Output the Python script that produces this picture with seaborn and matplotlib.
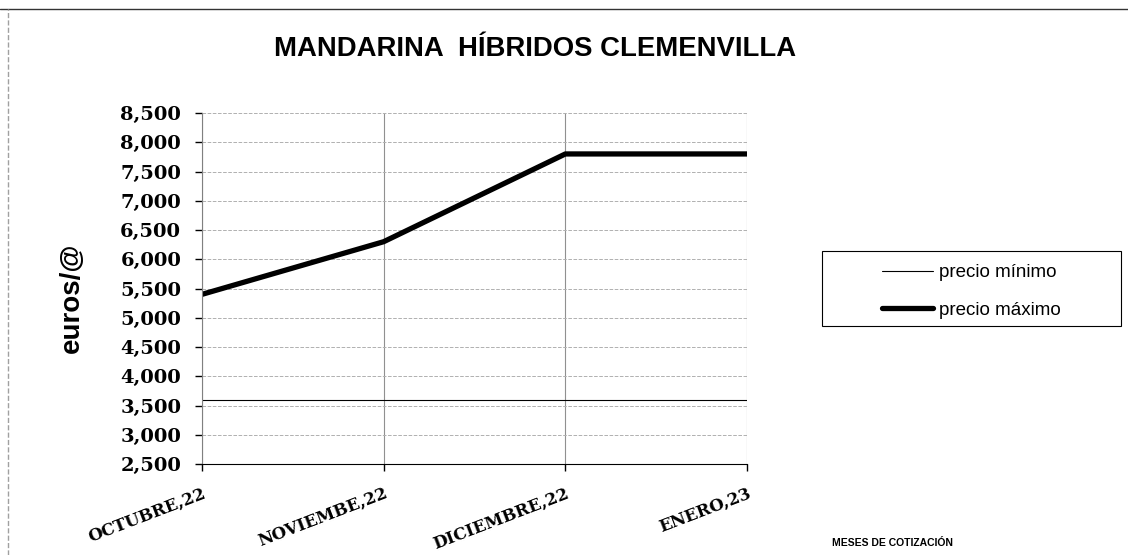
import numpy as np
import pandas as pd
import matplotlib
matplotlib.use('Agg')
import matplotlib.pyplot as plt
from matplotlib.lines import Line2D
from matplotlib.patches import Rectangle
import seaborn as sns

# Data
meses = ['OCTUBRE,22', 'NOVIEMBE,22', 'DICIEMBRE,22', 'ENERO,23']
precio_minimo = [3.6, 3.6, 3.6, 3.6]
precio_maximo = [5.4, 6.3, 7.8, 7.8]
y_ticks = [2.5, 3.0, 3.5, 4.0, 4.5, 5.0, 5.5, 6.0, 6.5, 7.0, 7.5, 8.0, 8.5]

df = pd.DataFrame({'mes': meses, 'pos': range(len(meses)),
                   'minimo': precio_minimo, 'maximo': precio_maximo})

sns.set_style('white')
plt.rcParams['font.family'] = ['Liberation Sans', 'DejaVu Sans']
plt.rcParams['text.color'] = 'black'
plt.rcParams['axes.labelcolor'] = 'black'
plt.rcParams['xtick.color'] = 'black'
plt.rcParams['ytick.color'] = 'black'

W, H = 1128, 555
fig = plt.figure(figsize=(W / 100, H / 100), dpi=100)
ax = fig.add_axes([202 / W, 1 - 464 / H, (747 - 202) / W, (464 - 113) / H])

sns.lineplot(data=df, x='pos', y='minimo', ax=ax, color='black', linewidth=0.8)
sns.lineplot(data=df, x='pos', y='maximo', ax=ax, color='black', linewidth=3.8,
             solid_capstyle='butt')

ax.set_xlim(0, len(meses) - 1)
ax.set_ylim(2.5, 8.5)
ax.set_yticks(y_ticks)
ax.set_yticklabels([f'{v:.3f}'.replace('.', ',') for v in y_ticks],
                   family='DejaVu Serif', fontweight='heavy', fontsize=14)
ax.set_xticks(range(len(meses)))
ax.set_xticklabels(meses, family='DejaVu Serif', fontweight='heavy', fontsize=12,
                   rotation=21, ha='right', va='top', rotation_mode='anchor')

ax.grid(axis='y', color='#b0b0b0', linestyle='--', linewidth=0.7)
ax.grid(axis='x', color='#909090', linestyle='-', linewidth=0.8)
ax.set_axisbelow(True)
ax.tick_params(axis='both', direction='out', length=5, width=1, color='black',
               left=True, bottom=True)
ax.tick_params(axis='y', pad=10)
ax.tick_params(axis='x', pad=10)
for side in ['top', 'right']:
    ax.spines[side].set_visible(False)
ax.spines['left'].set_color('#808080')
ax.spines['bottom'].set_color('black')
ax.set_xlabel('')
ax.set_ylabel('')

fig.text(535 / W, 1 - 49 / H, 'MANDARINA  HÍBRIDOS CLEMENVILLA', ha='center',
         va='center', fontsize=19.8, fontweight='bold')
fig.text(72 / W, 1 - 298 / H, 'euros/@', rotation=90, ha='center', va='center',
         fontsize=20, fontweight='bold')
fig.text(892 / W, 1 - 543 / H, 'MESES DE COTIZACIÓN', ha='center', va='center',
         fontsize=7.5, fontweight='bold')

# legend box
fig.patches.append(Rectangle((822 / W, 1 - 326 / H), 299 / W, 75 / H,
                             transform=fig.transFigure, fill=False,
                             edgecolor='black', linewidth=0.8))
handles = [Line2D([], [], color='black', linewidth=0.8),
           Line2D([], [], color='black', linewidth=3.8)]
fig.legend(handles, ['precio mínimo', 'precio máximo'], frameon=False,
           loc='upper left', bbox_to_anchor=(882 / W, 1 - 264 / H), fontsize=13.5,
           borderpad=0, borderaxespad=0, handlelength=2.72, handletextpad=0.33,
           labelspacing=1.1)

# outer chart frame
fig.add_artist(Line2D([0, 1], [1 - 9 / H, 1 - 9 / H], transform=fig.transFigure,
                      color='#333333', linewidth=1))
fig.add_artist(Line2D([8 / W, 8 / W], [0, 1 - 9 / H], transform=fig.transFigure,
                      color='#a0a0a0', linewidth=1, linestyle='--'))

fig.savefig('out.png', dpi=100)
